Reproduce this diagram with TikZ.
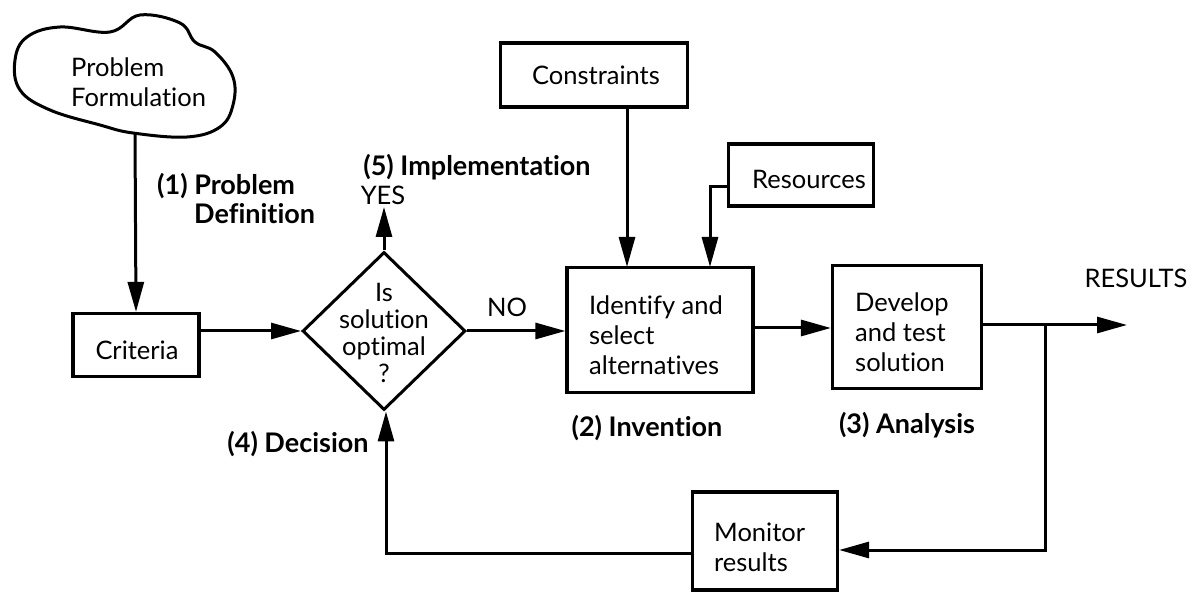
\documentclass[tikz,border=0pt]{standalone}
\usepackage{fontspec}
\setmainfont[Ligatures=NoCommon]{Lato}
\usetikzlibrary{shapes.geometric,arrows.meta}
\begin{document}
\begin{tikzpicture}[x=1pt,y=-1pt,
  font=\fontsize{25.5}{30}\selectfont,
  box/.style={draw,line width=3.2pt,inner sep=0pt},
  lbl/.style={inner sep=0pt,font=\fontsize{27}{29}\selectfont\bfseries},
  txt/.style={inner sep=0pt},
  conn/.style={line width=3pt},
  arr/.style={line width=3pt,-{Triangle[length=30pt,width=16pt]}}]
\useasboundingbox (0,0) rectangle (1197,593);
% cloud
\draw[line width=3pt] plot[smooth cycle,tension=0.65] coordinates {(110,32) (140,15) (180,23) (195,42) (215,52) (233,77) (233,105) (220,127) (187,137) (133,133) (100,125) (50,110) (20,90) (15,60) (27,37) (60,27)};
\node[txt,align=left,anchor=west] (pf) at (71,82) {Problem\\Formulation};
\coordinate (cloudbot) at (135,134);
% boxes
\node[box,minimum width=126pt,minimum height=63pt] (crit) at (136,345) {};
\node[txt] (crittxt) at (137,350) {Criteria};
\node[draw,diamond,line width=3pt,minimum width=163pt,minimum height=158pt,inner sep=0pt] (dia) at (384,331) {};
\node[txt,align=center,font=\fontsize{25.5}{27}\selectfont] (diatxt) at (384,333) {Is\\solution\\optimal\\?};
\node[box,minimum width=186pt,minimum height=125pt] (ident) at (660,330) {};
\node[txt,align=left,anchor=west] (identtxt) at (589,335) {Identify and\\select\\alternatives};
\node[box,minimum width=187pt,minimum height=64pt] (cons) at (594,75) {};
\node[txt] (constxt) at (596,75) {Constraints};
\node[box,minimum width=145pt,minimum height=62pt] (res) at (801,175) {};
\node[txt] (restxt) at (809,179) {Resources};
\node[box,minimum width=149pt,minimum height=123pt] (dev) at (907,327) {};
\node[txt,align=left,anchor=west] (devtxt) at (855,332) {Develop\\and test\\solution};
\node[box,minimum width=145pt,minimum height=98pt] (mon) at (765,541) {};
\node[txt,align=left,anchor=west] (montxt) at (714,547) {Monitor\\results};
% labels
\node[lbl,align=left,anchor=west] (l1) at (157,201) {(1) Problem\\\phantom{(1) }Definition};
\node[lbl] (l5) at (477,167) {(5) Implementation};
\node[txt] (yes) at (383,195) {YES};
\node[txt] (no) at (507,307) {NO};
\node[lbl] (l2) at (647,428) {(2) Invention};
\node[lbl] (l3) at (907,425) {(3) Analysis};
\node[lbl] (l4) at (298,444) {(4) Decision};
\node[txt] (resl) at (1136,278) {RESULTS};
% coordinates
\coordinate (c1) at (627,267);
\coordinate (c2) at (710,267);
\coordinate (c2b) at (710,187);
\coordinate (yestip) at (384,207);
\coordinate (out) at (1127,325);
\coordinate (br) at (1045,325);
\coordinate (brd) at (1045,550);
\coordinate (fb) at (386,553);
% connectors
\draw[arr] (cloudbot) -- (crit.north);
\draw[arr] (crit.east |- dia.west) -- (dia.west);
\draw[arr] (dia.north) -- (yestip);
\draw[arr] (dia.east) -- (ident.west |- dia.east);
\draw[arr] (cons.south -| c1) -- (c1);
\draw[arr] (res.west |- c2b) -- (c2b) -- (c2);
\draw[arr] (ident.east |- 0,328) -- (dev.west |- 0,328);
\draw[arr] (dev.east |- out) -- (out);
\draw[arr] (br) -- (brd) -- (mon.east |- brd);
\draw[arr] (mon.west |- fb) -- (fb) -- (fb |- dia.south);
\end{tikzpicture}
\end{document}
